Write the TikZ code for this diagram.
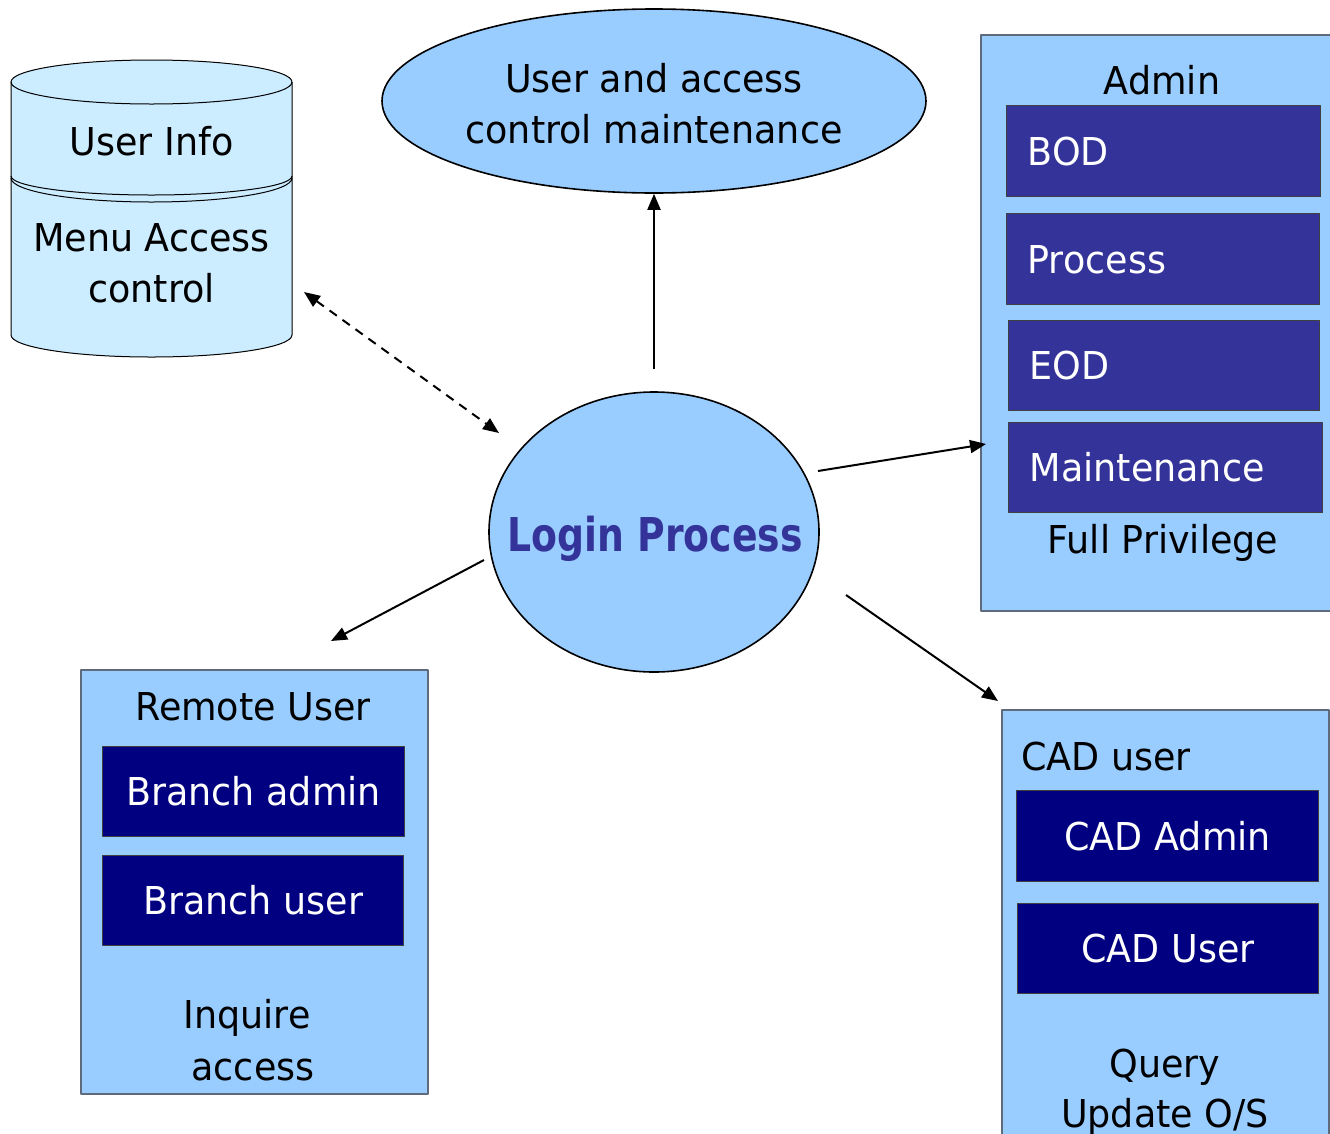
\documentclass[tikz,border=0pt]{standalone}
\usepackage{fontspec}
\setmainfont{DejaVu Sans}[FakeStretch=0.95]
\newfontfamily\loginfont{DejaVu Sans}[FakeStretch=0.81]
\usetikzlibrary{arrows.meta,shapes.geometric}
\definecolor{skyfill}{HTML}{99CCFF}
\definecolor{cylfill}{HTML}{CCECFF}
\definecolor{roleblue}{HTML}{333399}
\definecolor{rolenavy}{HTML}{000080}
\definecolor{panelline}{HTML}{5F6B7A}
\newcommand\bigtext{\fontsize{38.4}{52}\selectfont}
\tikzset{
  bubble/.style={ellipse,draw,line width=1.6pt,fill=skyfill,inner sep=0pt},
  panel/.style={rectangle,draw=panelline,line width=1.5pt,fill=skyfill,inner sep=0pt,anchor=north west},
  rolebox/.style={rectangle,draw=black!75,line width=1.2pt,fill=roleblue,text=white,inner sep=0pt,
    anchor=north west,font=\bigtext,text height=28pt,text depth=0pt},
  leftrole/.style={rolebox,align=left,inner xsep=21pt},
  caption/.style={anchor=base,inner sep=0pt,font=\bigtext},
  link/.style={-{Triangle[length=16pt,width=13pt]},line width=2pt},
}
\begin{document}
\begin{tikzpicture}[x=1pt,y=-1pt,line join=round]
  \useasboundingbox (0,0) rectangle (1330,1133);
  % database cylinder
  \fill[cylfill] (11,82) -- (11,335) arc[start angle=180,end angle=360,x radius=140.5pt,y radius=22pt]
    -- (292,82) arc[start angle=0,end angle=180,x radius=140.5pt,y radius=22pt] -- cycle;
  \draw[line width=1pt] (11,82) -- (11,335) arc[start angle=180,end angle=360,x radius=140.5pt,y radius=22pt] -- (292,82);
  \draw[line width=1pt] (151.5,82) ellipse[x radius=140.5pt,y radius=22pt];
  \draw[line width=1pt] (11,176) arc[start angle=180,end angle=360,x radius=140.5pt,y radius=19pt];
  \draw[line width=1pt] (11,178) arc[start angle=180,end angle=360,x radius=140.5pt,y radius=24pt];
  \node[caption] (uinfo) at (151.5,155) {User Info};
  \node[caption] (menuacc) at (151.5,251) {Menu Access};
  \node[caption] (menuctl) at (151.5,302) {control};

  % bubbles
  \node[bubble,minimum width=544pt,minimum height=184pt] (umaint) at (654,101) {};
  \node[caption] (umaint1) at (654,92) {User and access};
  \node[caption] (umaint2) at (654,143) {control maintenance};
  \node[bubble,minimum width=330pt,minimum height=280pt] (login) at (654,532) {};
  \node[caption,font=\fontsize{46.6}{52}\loginfont\bfseries,text=roleblue] (logintxt) at (655,551.5) {Login Process};

  % admin panel
  \node[panel,minimum width=360pt,minimum height=576pt] (admin) at (980,34) {};
  \node[caption] (admintxt) at (1162,94) {Admin};
  \node[leftrole,minimum width=314pt,minimum height=91pt,text width=272pt] (bod) at (1006,105) {BOD};
  \node[leftrole,minimum width=313pt,minimum height=91pt,text width=271pt] (proc) at (1006,213) {Process};
  \node[leftrole,minimum width=311pt,minimum height=90pt,text width=269pt] (eod) at (1008,320) {EOD};
  \node[leftrole,minimum width=314pt,minimum height=90pt,text width=272pt] (maint) at (1008,422) {Maintenance};
  \node[caption] (fullpriv) at (1163,553) {Full Privilege};

  % remote user panel
  \node[panel,minimum width=347pt,minimum height=424pt] (remote) at (80,669) {};
  \node[caption] (remotetxt) at (253,720) {Remote User};
  \node[rolebox,fill=rolenavy,minimum width=302pt,minimum height=90pt] (badmin) at (102,746) {Branch admin};
  \node[rolebox,fill=rolenavy,minimum width=301pt,minimum height=90pt] (buser) at (102,855) {Branch user};
  \node[caption] (inq1) at (247,1028) {Inquire};
  \node[caption] (inq2) at (253,1080) {access};

  % CAD panel
  \node[panel,minimum width=327pt,minimum height=460pt] (cad) at (1001,709) {};
  \node[caption,anchor=base west] (cadtxt) at (1021,770) {CAD user};
  \node[rolebox,fill=rolenavy,minimum width=302pt,minimum height=91pt] (cadadmin) at (1016,790) {CAD Admin};
  \node[rolebox,fill=rolenavy,minimum width=301pt,minimum height=90pt] (caduser) at (1017,903) {CAD User};
  \node[caption] (query1) at (1165,1077) {Query};
  \node[caption] (query2) at (1165,1127) {Update O/S};

  % connectors
  \coordinate (dbend) at (304,292);
  \coordinate (loginnw) at (499,433);
  \coordinate (loginne) at (818,471);
  \coordinate (adminin) at (986,444);
  \coordinate (loginse) at (846,595);
  \coordinate (cadin) at (998,701);
  \coordinate (loginsw) at (484,560);
  \coordinate (remotein) at (331,641);
  \draw[link] ([yshift=22pt]login.north) -- (umaint.south);
  \draw[link,{Triangle[length=16pt,width=13pt]}-{Triangle[length=16pt,width=13pt]},dash pattern=on 9pt off 7pt] (dbend) -- (loginnw);
  \draw[link] (loginne) -- (adminin);
  \draw[link] (loginse) -- (cadin);
  \draw[link] (loginsw) -- (remotein);
\end{tikzpicture}
\end{document}
